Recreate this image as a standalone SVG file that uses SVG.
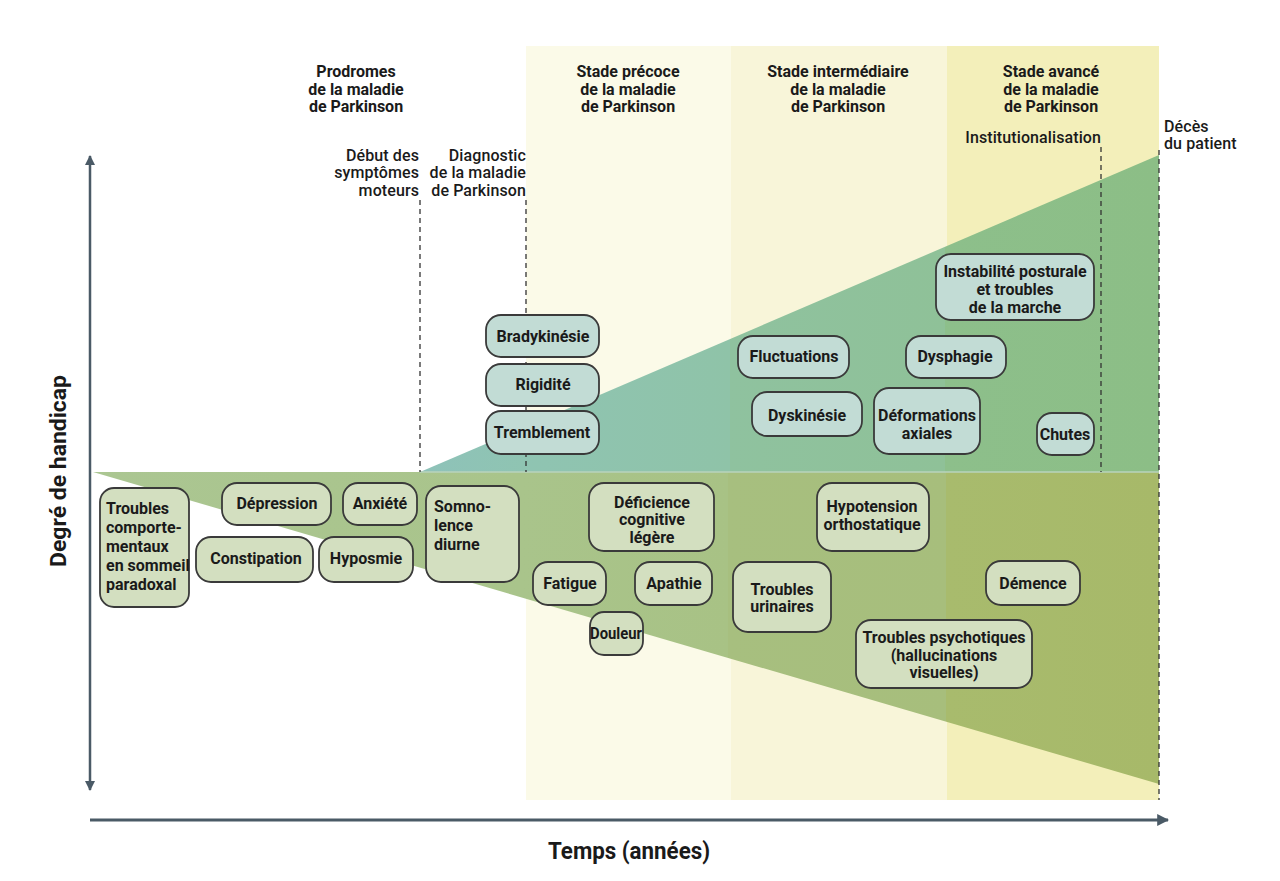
<svg xmlns="http://www.w3.org/2000/svg" width="1280" height="881" viewBox="0 0 1280 881">
<style>
text{font-family:Roboto,"Liberation Sans",sans-serif;fill:#1a1a1a}
.h{font-size:16px;font-weight:700;text-anchor:middle}
.m{font-size:16px;font-weight:500;letter-spacing:0.1px}
.t{font-size:16px;font-weight:700;text-anchor:middle}
.tl{font-size:16px;font-weight:700}
.bu{fill:#c2dcd5;stroke:#3a3a3a;stroke-width:1.8}
.bl{fill:#d3dfc0;stroke:#3a3a3a;stroke-width:1.8}
.dash{stroke:#333;stroke-width:1.3;stroke-dasharray:5 4;fill:none}
.ax{stroke:#4a5a66;fill:none}
</style>
<defs>
<marker id="ah" viewBox="0 0 10 10" refX="9" refY="5" markerWidth="4" markerHeight="4" orient="auto-start-reverse">
<path d="M0,0 L10,5 L0,10 z" fill="#4a5a66"/>
</marker>
<linearGradient id="gm" gradientUnits="userSpaceOnUse" x1="420" y1="0" x2="1159" y2="0">
<stop offset="0" stop-color="#8ec2b9"/>
<stop offset="0.143" stop-color="#8fc4b2"/>
<stop offset="0.42" stop-color="#8fc3a8"/>
<stop offset="0.42" stop-color="#8fc29f"/>
<stop offset="0.71" stop-color="#8fc198"/>
<stop offset="0.71" stop-color="#8dbf8b"/>
<stop offset="1" stop-color="#8cbe86"/>
</linearGradient>
<linearGradient id="gl" gradientUnits="userSpaceOnUse" x1="95" y1="0" x2="1159" y2="0">
<stop offset="0" stop-color="#abc692"/>
<stop offset="0.4" stop-color="#a9c48b"/>
<stop offset="0.595" stop-color="#a8c285"/>
<stop offset="0.595" stop-color="#a7bf7f"/>
<stop offset="0.8" stop-color="#a7be7c"/>
<stop offset="0.8" stop-color="#a8bb6d"/>
<stop offset="1" stop-color="#a7b969"/>
</linearGradient>
</defs>
<rect width="1280" height="881" fill="#ffffff"/>
<g id="bands">
<rect x="526" y="46" width="205" height="754" fill="#fbfae8"/>
<rect x="731" y="46" width="216" height="754" fill="#f8f5d9"/>
<rect x="947" y="46" width="212" height="754" fill="#f3efba"/>
</g>
<g id="wedges">
<polygon points="420,472 1159,155 1159,472" fill="url(#gm)"/>
<polygon points="93,472 1159,472 1159,784" fill="url(#gl)"/>
<line x1="420" y1="472" x2="1159" y2="472" stroke="#b9d3bd" stroke-width="1.5"/>
</g>
<g id="connectors">
<line class="dash" x1="420" y1="200" x2="420" y2="472"/>
<line class="dash" x1="526" y1="200" x2="526" y2="472"/>
<line class="dash" x1="1101" y1="147" x2="1101" y2="472"/>
<line class="dash" x1="1159" y1="150" x2="1159" y2="800"/>
<line class="ax" x1="90" y1="790" x2="90" y2="156" stroke-width="2.5" marker-start="url(#ah)" marker-end="url(#ah)"/>
<line class="ax" x1="90" y1="820" x2="1168" y2="820" stroke-width="3" marker-end="url(#ah)"/>
</g>
<g id="labels">
<text class="h" x="356" y="77">Prodromes</text>
<text class="h" x="356" y="95">de la maladie</text>
<text class="h" x="356" y="112">de Parkinson</text>
<text class="h" x="628" y="77">Stade précoce</text>
<text class="h" x="628" y="95">de la maladie</text>
<text class="h" x="628" y="112">de Parkinson</text>
<text class="h" x="838" y="77">Stade intermédiaire</text>
<text class="h" x="838" y="95">de la maladie</text>
<text class="h" x="838" y="112">de Parkinson</text>
<text class="h" x="1051" y="77">Stade avancé</text>
<text class="h" x="1051" y="95">de la maladie</text>
<text class="h" x="1051" y="112">de Parkinson</text>
<text class="m" x="1101" y="143" text-anchor="end">Institutionalisation</text>
<text class="m" x="1164" y="132">Décès</text>
<text class="m" x="1164" y="149">du patient</text>
<text class="m" x="419" y="161" text-anchor="end">Début des</text>
<text class="m" x="419" y="178" text-anchor="end">symptômes</text>
<text class="m" x="419" y="196" text-anchor="end">moteurs</text>
<text class="m" x="526" y="161" text-anchor="end">Diagnostic</text>
<text class="m" x="526" y="178" text-anchor="end">de la maladie</text>
<text class="m" x="526" y="196" text-anchor="end">de Parkinson</text>
<text x="66" y="471" transform="rotate(-90 66 471)" text-anchor="middle" font-size="22" font-weight="700" textLength="192" lengthAdjust="spacingAndGlyphs">Degré de handicap</text>
<text x="629" y="859" text-anchor="middle" font-size="23" font-weight="700" textLength="162" lengthAdjust="spacingAndGlyphs">Temps (années)</text>
</g>
<g id="bradykinesie"><rect class="bu" x="486" y="315" width="113" height="42" rx="15"/><text class="t" x="543" y="342">Bradykinésie</text></g>
<g id="rigidite"><rect class="bu" x="486" y="364" width="113" height="42" rx="15"/><text class="t" x="543" y="390">Rigidité</text></g>
<g id="tremblement"><rect class="bu" x="486" y="411" width="113" height="43" rx="15"/><text class="t" x="542" y="438">Tremblement</text></g>
<g id="fluctuations"><rect class="bu" x="738" y="336" width="111" height="42" rx="15"/><text class="t" x="794" y="362">Fluctuations</text></g>
<g id="dyskinesie"><rect class="bu" x="752" y="392" width="110" height="44" rx="15"/><text class="t" x="807" y="421">Dyskinésie</text></g>
<g id="deformations"><rect class="bu" x="874" y="388" width="106" height="66" rx="15"/><text class="t" x="927" y="421">Déformations</text><text class="t" x="927" y="439">axiales</text></g>
<g id="dysphagie"><rect class="bu" x="906" y="336" width="100" height="42" rx="15"/><text class="t" x="955" y="362">Dysphagie</text></g>
<g id="instabilite"><rect class="bu" x="936" y="254" width="158" height="66" rx="15"/><text class="t" x="1015" y="277">Instabilité posturale</text><text class="t" x="1015" y="295">et troubles</text><text class="t" x="1015" y="313">de la marche</text></g>
<g id="chutes"><rect class="bu" x="1037" y="413" width="57" height="42" rx="15"/><text class="t" x="1065" y="440">Chutes</text></g>
<g id="troubles-comportementaux"><rect class="bl" x="100" y="488" width="89" height="119" rx="14"/><text class="tl" x="106" y="514">Troubles</text><text class="tl" x="106" y="533">comporte-</text><text class="tl" x="106" y="552">mentaux</text><text class="tl" x="106" y="571">en sommeil</text><text class="tl" x="106" y="590">paradoxal</text></g>
<g id="depression"><rect class="bl" x="222" y="483" width="109" height="42" rx="15"/><text class="t" x="277" y="509">Dépression</text></g>
<g id="anxiete"><rect class="bl" x="343" y="483" width="74" height="42" rx="15"/><text class="t" x="380" y="509">Anxiété</text></g>
<g id="constipation"><rect class="bl" x="196" y="537" width="117" height="45" rx="15"/><text class="t" x="256" y="564">Constipation</text></g>
<g id="hyposmie"><rect class="bl" x="319" y="537" width="94" height="45" rx="15"/><text class="t" x="366" y="564">Hyposmie</text></g>
<g id="somnolence"><rect class="bl" x="426" y="486" width="93" height="96" rx="15"/><text class="tl" x="434" y="512">Somno-</text><text class="tl" x="434" y="531">lence</text><text class="tl" x="434" y="550">diurne</text></g>
<g id="deficience"><rect class="bl" x="589" y="483" width="125" height="68" rx="15"/><text class="t" x="652" y="508">Déficience</text><text class="t" x="652" y="525">cognitive</text><text class="t" x="652" y="543">légère</text></g>
<g id="fatigue"><rect class="bl" x="533" y="562" width="73" height="43" rx="15"/><text class="t" x="570" y="589">Fatigue</text></g>
<g id="apathie"><rect class="bl" x="635" y="562" width="77" height="43" rx="15"/><text class="t" x="674" y="589">Apathie</text></g>
<g id="douleur"><rect class="bl" x="590" y="612" width="53" height="43" rx="14"/><text class="t" x="616" y="639" textLength="52" lengthAdjust="spacingAndGlyphs">Douleur</text></g>
<g id="hypotension"><rect class="bl" x="817" y="483" width="112" height="68" rx="15"/><text class="t" x="872" y="512">Hypotension</text><text class="t" x="872" y="530">orthostatique</text></g>
<g id="urinaires"><rect class="bl" x="733" y="562" width="98" height="70" rx="15"/><text class="t" x="782" y="595">Troubles</text><text class="t" x="782" y="612">urinaires</text></g>
<g id="demence"><rect class="bl" x="986" y="561" width="94" height="44" rx="15"/><text class="t" x="1033" y="589">Démence</text></g>
<g id="psychotiques"><rect class="bl" x="856" y="620" width="176" height="68" rx="15"/><text class="t" x="944" y="643">Troubles psychotiques</text><text class="t" x="944" y="661">(hallucinations</text><text class="t" x="944" y="678">visuelles)</text></g>
</svg>
